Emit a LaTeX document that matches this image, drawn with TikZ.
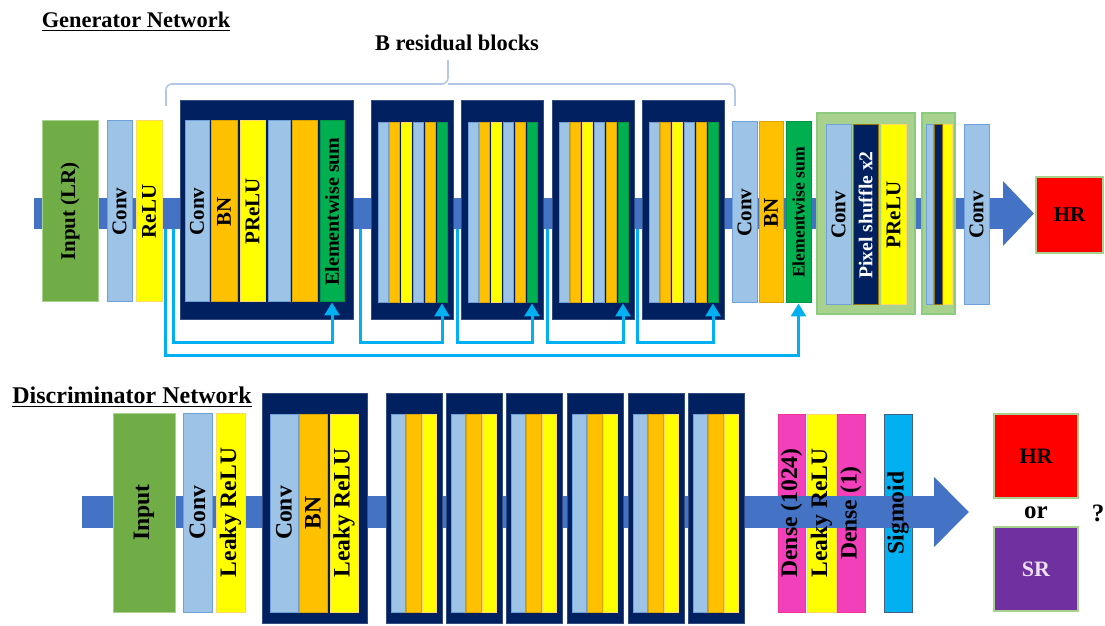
\documentclass[tikz,border=0pt]{standalone}
\usepackage{fontspec}
\setmainfont{Liberation Serif}
\usetikzlibrary{arrows.meta, positioning, fit, calc}

\definecolor{barblue}{HTML}{4472C4}
\definecolor{inpgreen}{HTML}{70AD47}
\definecolor{convblue}{HTML}{9DC3E6}
\definecolor{convedge}{HTML}{6FA0D8}
\definecolor{bnorange}{HTML}{FFC000}
\definecolor{actyellow}{HTML}{FFFF00}
\definecolor{blocknavy}{HTML}{002060}
\definecolor{sumgreen}{HTML}{00B050}
\definecolor{upgreen}{HTML}{A9D18E}
\definecolor{grpedge}{HTML}{8CCB7E}
\definecolor{skipcyan}{HTML}{00B0F0}
\definecolor{densepink}{HTML}{F23FBA}
\definecolor{srpurple}{HTML}{7030A0}
\definecolor{bracegray}{HTML}{B4C7E7}

\newcommand\genfont{\fontsize{10.5}{12}\selectfont\bfseries}
\newcommand\discfont{\fontsize{11.8}{13}\selectfont\bfseries}

\begin{document}
\begin{tikzpicture}[
    x=0.5pt, y=-0.5pt,
    lay/.style={inner sep=0pt, line width=0.5pt},
    inp/.style={lay, fill=inpgreen, draw=upgreen},
    conv/.style={lay, fill=convblue, draw=convedge},
    bn/.style={lay, fill=bnorange, draw=bnorange!85!black},
    act/.style={lay, fill=actyellow, draw=bnorange!60},
    sum/.style={lay, fill=sumgreen, draw=sumgreen!85!black},
    shuf/.style={lay, fill=blocknavy, draw=bnorange!60!black},
    block/.style={inner sep=0pt, fill=blocknavy, draw=blocknavy!80!white, line width=0.5pt},
    grp/.style={inner sep=0pt, fill=upgreen, draw=grpedge, line width=1pt},
    dense/.style={lay, fill=densepink, draw=densepink!80!red},
    sigm/.style={lay, fill=skipcyan, draw=convedge!60!black},
    outbox/.style={lay, draw=upgreen, line width=0.8pt},
    gtxt/.style={rotate=90, inner sep=0pt, font=\genfont},
    vtxt/.style={rotate=90, inner sep=0pt, font=\discfont},
    title/.style={font=\fontsize{11.2}{13}\selectfont\bfseries},
    brace/.style={bracegray, line width=0.8pt, rounded corners=3pt},
    gbar/.style={barblue, line width=15.5pt, -{Triangle[length=15.5pt, width=31.5pt]}},
    dbar/.style={barblue, line width=16pt, -{Triangle[length=17.5pt, width=34pt]}},
    skip/.style={skipcyan, line width=1.5pt, -{Triangle[length=6.5pt, width=7.5pt]}},
]
    \useasboundingbox (0,0) rectangle (1105,626);

    % ---------------- Generator network ----------------
    \node[title] (gtitle) at (136,22) {\underline{Generator Network}};
    \node[title] (btitle) at (457,43) {B residual blocks};
    \draw[brace] (166,106) |- (448,84) -- (448,60);
    \draw[brace] (448,84) -| (735,106);

    % main data path
    \coordinate (gin) at (34,213.5);
    \coordinate (gout) at (1034,213.5);
    \draw[gbar] (gin) -- (gout);

    \node[inp, fit={(42,121) (98,302)}] (ginput) {};
    \node[gtxt] (ginputt) at (ginput) {Input (LR)};
    \node[conv, fit={(107,121) (132,302)}] (gconv) {};
    \node[gtxt] (gconvt) at (gconv) {Conv};
    \node[act, fit={(136,121) (162,302)}] (grelu) {};
    \node[gtxt] (grelut) at (grelu) {ReLU};

    % first residual block, labelled
    \node[block, fit={(180,101) (353,320)}] (gb1) {};
    \node[conv, fit={(185,121) (209,302)}] (gb1conv) {};
    \node[gtxt] (gb1convt) at (gb1conv) {Conv};
    \node[bn, fit={(211,121) (237,302)}] (gb1bn) {};
    \node[gtxt] (gb1bnt) at (gb1bn) {BN};
    \node[act, fit={(240,121) (265,302)}] (gb1prelu) {};
    \node[gtxt] (gb1prelut) at (gb1prelu) {PReLU};
    \node[conv, fit={(268,121) (290,302)}] (gb1conv2) {};
    \node[bn, fit={(292,121) (317,302)}] (gb1bn2) {};
    \node[sum, fit={(320,121) (344,302)}] (gb1sum) {};
    \node[gtxt, font=\fontsize{10}{12}\selectfont\bfseries] (gb1sumt) at (gb1sum) {Elementwise sum};

    % remaining residual blocks
    \foreach \bx [count=\i from 2] in {371,461,552,642} {
        \node[block, fit={(\bx,101) (\bx+82,320)}] (gb\i) {};
        \foreach \c [count=\j from 0] in {conv,bn,act,conv,bn,sum}
            \node[\c, fit={(\bx+7+11.8*\j,123) (\bx+17+11.8*\j,303)}] (gb\i-\j) {};
    }

    % after the blocks
    \node[conv, fit={(732,122) (757,303)}] (gconv2) {};
    \node[gtxt] (gconv2t) at (gconv2) {Conv};
    \node[bn, fit={(759,122) (783,303)}] (gbn2) {};
    \node[gtxt] (gbn2t) at (gbn2) {BN};
    \node[sum, fit={(786,122) (811,303)}] (gsum) {};
    \node[gtxt, font=\fontsize{8.8}{10}\selectfont\bfseries] (gsumt) at (gsum) {Elementwise sum};

    % upsampling groups
    \node[grp, fit={(817,113) (915,314)}] (gup1) {};
    \node[conv, fit={(826,125) (851,305)}] (gup1conv) {};
    \node[gtxt] (gup1convt) at (gup1conv) {Conv};
    \node[shuf, fit={(853,125) (878,305)}] (gup1shuf) {};
    \node[gtxt, text=white, font=\fontsize{9.8}{11}\selectfont\bfseries] (gup1shuft) at (gup1shuf) {Pixel shuffle x2};
    \node[act, fit={(881,125) (906,305)}] (gup1prelu) {};
    \node[gtxt] (gup1prelut) at (gup1prelu) {PReLU};
    \node[grp, fit={(922,113) (955,314)}] (gup2) {};
    \node[conv, fit={(926,125) (933,305)}] (gup2conv) {};
    \node[shuf, fit={(934,125) (942,305)}] (gup2shuf) {};
    \node[act, fit={(943,125) (952,305)}] (gup2prelu) {};

    \node[conv, fit={(964,125) (989,305)}] (gconv3) {};
    \node[gtxt] (gconv3t) at (gconv3) {Conv};
    \node[outbox, fill=red, fit={(1036,177) (1103,253)}] (ghr) {};
    \node[font=\genfont] (ghrt) at (ghr) {HR};

    % skip connections
    \coordinate (gs0) at (165,229);
    \coordinate (gs1) at (173,229);
    \draw[skip] (gs1) -- ++(0,114) -| (gb1sum.south);
    \foreach \sx [count=\i from 2] in {360,457,547,637} {
        \coordinate (gs\i) at (\sx,229);
        \draw[skip] (gs\i) -- ++(0,114) -| (gb\i-5.south);
    }
    \draw[skip] (gs0) -- ++(0,127) -| (gsum.south);

    % ---------------- Discriminator network ----------------
    \node[title, font=\fontsize{12}{14}\selectfont\bfseries] (dtitle) at (132,397) {\underline{Discriminator Network}};

    % dense head sits under the data path
    \node[dense, fit={(778,414) (805,612)}] (ddense1) {};
    \node[act, fit={(807,414) (836,612)}] (dlrelu) {};
    \node[dense, fit={(837,414) (865,612)}] (ddense2) {};
    \node[sigm, fit={(884,414) (912,612)}] (dsig) {};

    \coordinate (din) at (82,512);
    \coordinate (dout) at (969,512);
    \draw[dbar] (din) -- (dout);

    \node[inp, fit={(113,413) (175,612)}] (dinput) {};
    \node[vtxt] (dinputt) at (dinput) {Input};
    \node[conv, fit={(183,413) (212,612)}] (dconv) {};
    \node[vtxt] (dconvt) at (dconv) {Conv};
    \node[act, fit={(216,413) (245,612)}] (dlrelu0) {};
    \node[vtxt] (dlrelu0t) at (dlrelu0) {Leaky ReLU};

    \node[block, fit={(262,393) (367,623)}] (db1) {};
    \node[conv, fit={(270,414) (298,612)}] (db1conv) {};
    \node[vtxt] (db1convt) at (db1conv) {Conv};
    \node[bn, fit={(299,414) (327,612)}] (db1bn) {};
    \node[vtxt] (db1bnt) at (db1bn) {BN};
    \node[act, fit={(330,414) (358,612)}] (db1lrelu) {};
    \node[vtxt] (db1lrelut) at (db1lrelu) {Leaky ReLU};

    \foreach \bx [count=\i from 2] in {386,446,506,567,628,688} {
        \node[block, fit={(\bx,393) (\bx+56,623)}] (db\i) {};
        \foreach \c [count=\j from 0] in {conv,bn,act}
            \node[\c, fit={(\bx+5+15.5*\j,414) (\bx+19.5+15.5*\j,612)}] (db\i-\j) {};
    }

    \node[vtxt] (ddense1t) at (ddense1) {Dense (1024)};
    \node[vtxt] (dlrelut) at (dlrelu) {Leaky ReLU};
    \node[vtxt] (ddense2t) at (ddense2) {Dense (1)};
    \node[vtxt] (dsigt) at (dsig) {Sigmoid};

    % real or fake
    \node[outbox, fill=red, fit={(994,414) (1078,498)}] (dhr) {};
    \node[font=\fontsize{11}{13}\selectfont\bfseries] (dhrt) at (dhr) {HR};
    \node[font=\fontsize{12.5}{14}\selectfont\bfseries] (dor) at (1036,513) {or};
    \node[outbox, fill=srpurple, fit={(994,527) (1078,611)}] (dsr) {};
    \node[text=white!85!srpurple, font=\fontsize{11}{13}\selectfont\bfseries] (dsrt) at (dsr) {SR};
    \node[font=\fontsize{12.5}{14}\selectfont\bfseries, inner sep=0pt] (dq) at (1098,513) {?};
\end{tikzpicture}
\end{document}
